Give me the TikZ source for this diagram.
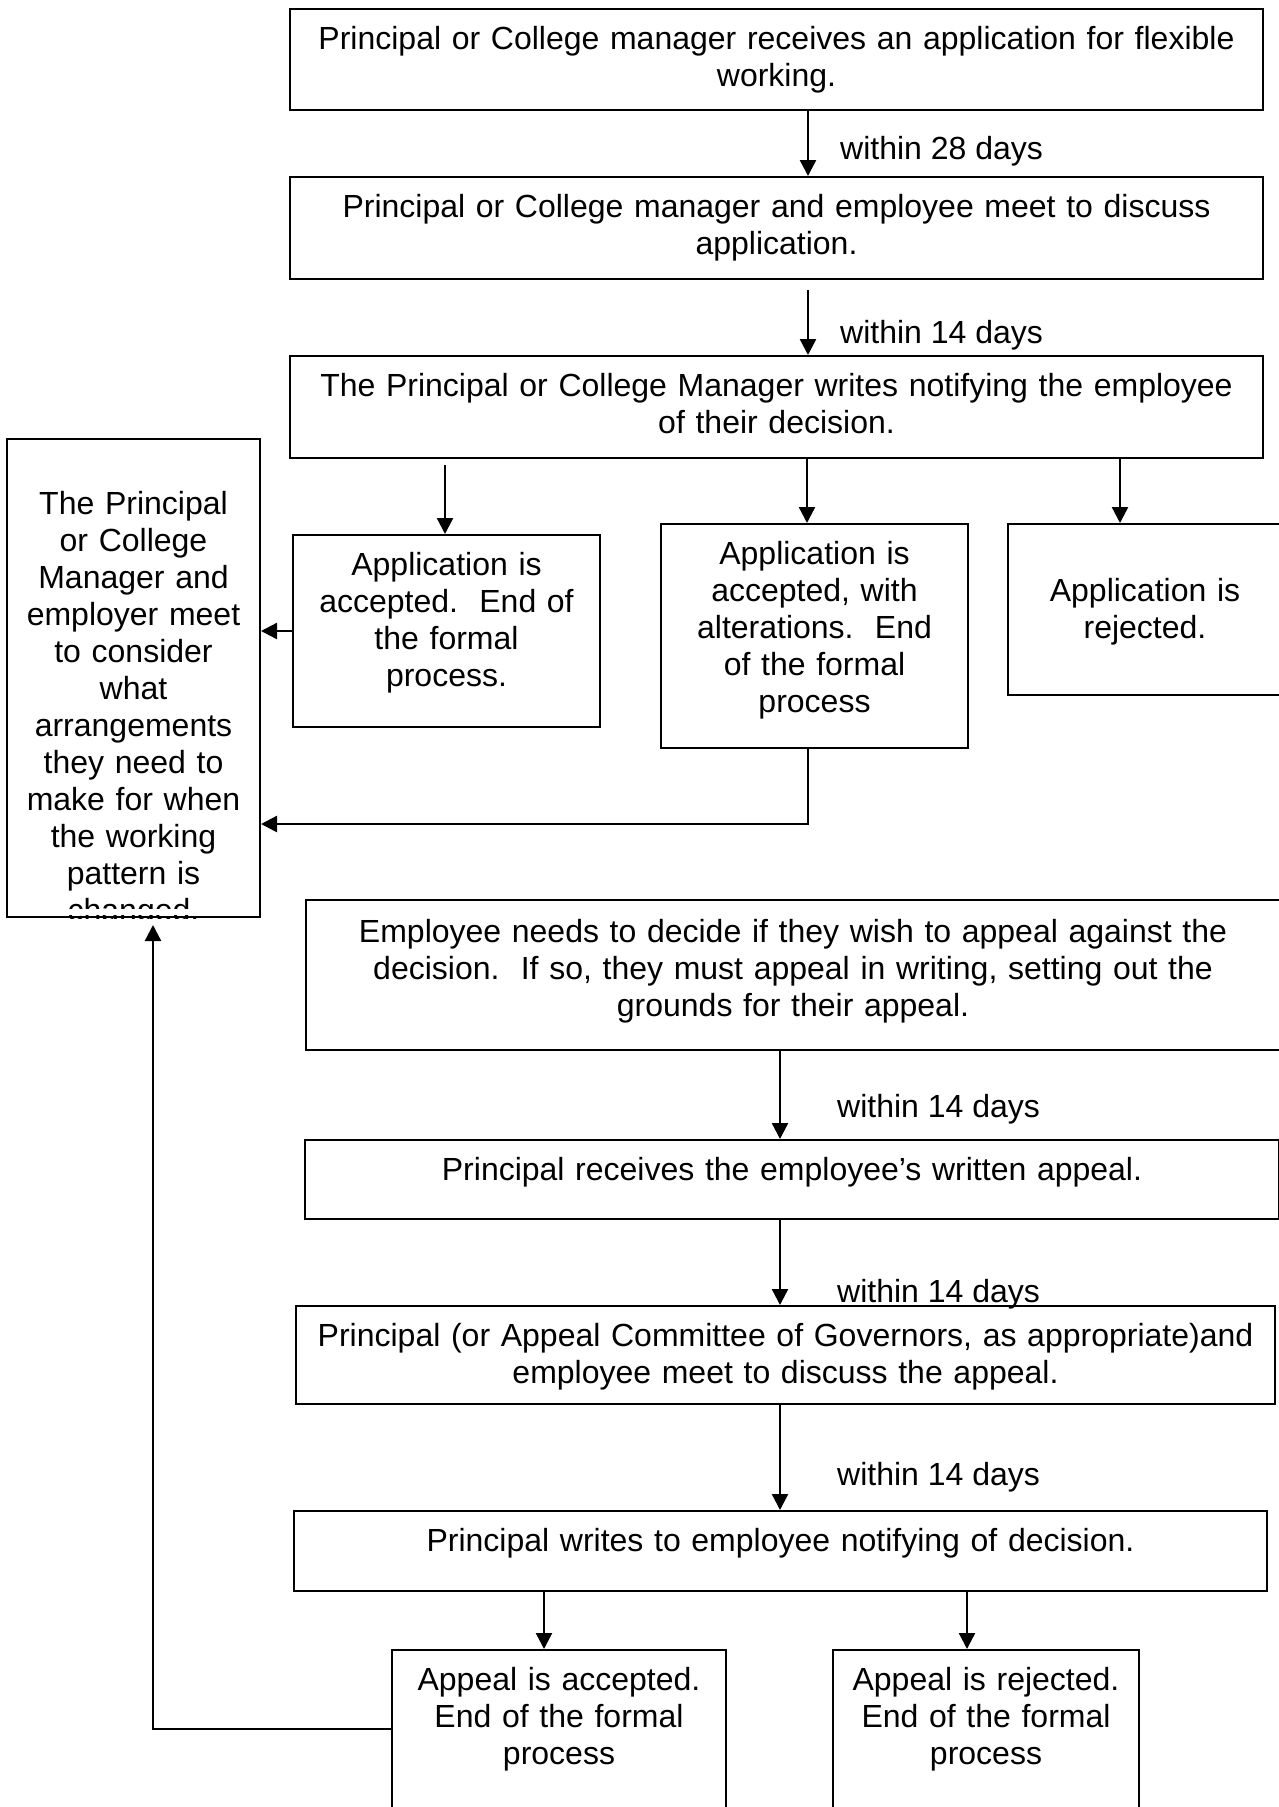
\documentclass[tikz,border=0pt]{standalone}
\usepackage{fontspec}
\setmainfont{Liberation Sans}
\usetikzlibrary{positioning, arrows.meta, calc}

\begin{document}
\begin{tikzpicture}[
        x=1pt, y=1pt, % one unit = one pixel of the page
        % --- STYLES ---
        % 1. The process boxes (text hangs from the top edge)
        stage/.style={
                draw,
                line width=2pt,
                anchor=north,
                align=center,
                inner sep=0pt,
                text height=40pt,
                font=\fontsize{32}{37}\selectfont
            },
        % 2. The arrows between the boxes
        flow/.style={
                -{Triangle[length=16pt, width=16pt]},
                line width=2.4pt
            },
        % 3. The time limits next to the arrows
        limit/.style={
                anchor=base west,
                inner sep=0pt,
                font=\fontsize{32}{37}\selectfont
            }
    ]

    \useasboundingbox (0,0) rectangle (1278,-1807);

    % 1. The application
    \node[stage, text width=973pt, text depth=61pt] (apply) at (776.5,-8) {Principal or College manager receives an application for flexible\\ working.};
    \node[stage, text width=973pt, text depth=62pt] (discuss) at (776.5,-176) {Principal or College manager and employee meet to discuss\\ application.};
    \node[stage, text width=973pt, text depth=62pt] (notify) at (776.5,-355) {The Principal or College Manager writes notifying the employee\\ of their decision.};

    % 2. The three decisions
    \node[stage, text width=307pt, text depth=152pt] (accepted) at (446.5,-534) {Application is\\ accepted.\ \ End of\\ the formal\\ process.};
    \node[stage, text width=307pt, text depth=184pt] (altered) at (814.5,-523) {Application is\\ accepted, with\\ alterations.\ \ End\\ of the formal\\ process};
    \node[stage, text width=274pt, text height=77pt, text depth=94pt] (rejected) at (1145,-523) {Application is\\ rejected.};

    % 3. The arrangements box (last line cut by the box)
    \begin{scope}
        \clip (0,-420) rectangle (300,-908) (0,-908) rectangle (9,-918)
              (258,-908) rectangle (300,-918) (0,-915) rectangle (300,-918);
        \node[stage, text width=253pt, text height=75pt, text depth=403pt] (consider) at (133.5,-438) {The Principal\\ or College\\ Manager and\\ employer meet\\ to consider\\ what\\ arrangements\\ they need to\\ make for when\\ the working\\ pattern is\\ changed.};
    \end{scope}

    % 4. The appeal
    \node[stage, text width=974pt, text height=42pt, text depth=108pt] (appealq) at (793,-899) {Employee needs to decide if they wish to appeal against the\\ decision.\ \ If so, they must appeal in writing, setting out the\\ grounds for their appeal.};
    \node[stage, text width=974pt, text depth=39pt] (received) at (792,-1139) {Principal receives the employee’s written appeal.};
    \node[stage, text width=979pt, text depth=58pt] (hearing) at (785.5,-1305) {Principal (or Appeal Committee of Governors, as appropriate)and\\ employee meet to discuss the appeal.};
    \node[stage, text width=973pt, text depth=40pt] (outcome) at (780.5,-1510) {Principal writes to employee notifying of decision.};
    \node[stage, text width=334pt, text depth=141pt] (upheld) at (559,-1649) {Appeal is accepted.\\ End of the formal\\ process};
    \node[stage, text width=306pt, text depth=141pt] (dismissed) at (986,-1649) {Appeal is rejected.\\ End of the formal\\ process};

    % 5. Time limits
    \node[limit] (days28) at (840,-159) {within 28 days};
    \node[limit] (days14a) at (840,-343) {within 14 days};
    \node[limit] (days14b) at (837,-1117) {within 14 days};
    \node[limit] (days14c) at (837,-1302) {within 14 days};
    \node[limit] (days14d) at (837,-1485) {within 14 days};

    % 6. Arrows of the first part
    \draw[flow] (apply.south -| 808,0) -- (discuss.north -| 808,0);
    \draw[flow, shorten <=10pt] (discuss.south -| 808,0) -- (notify.north -| 808,0);
    \draw[flow, shorten <=6pt] (notify.south -| 445,0) -- (accepted.north -| 445,0);
    \draw[flow] (notify.south -| 807,0) -- (altered.north -| 807,0);
    \draw[flow] (notify.south -| 1120,0) -- (rejected.north -| 1120,0);
    \draw[flow] (accepted.west) -- (accepted.west -| consider.east);
    \draw[flow] (altered.south -| 808,0) |- (consider.east |- 0,-824);

    % 7. Arrows of the appeal
    \draw[flow] (appealq.south -| 780,0) -- (received.north -| 780,0);
    \draw[flow] (received.south -| 780,0) -- (hearing.north -| 780,0);
    \draw[flow] (hearing.south -| 780,0) -- (outcome.north -| 780,0);
    \draw[flow] (outcome.south -| 544,0) -- (upheld.north -| 544,0);
    \draw[flow] (outcome.south -| 967,0) -- (dismissed.north -| 967,0);

    % 8. Back to the arrangements box
    \coordinate (back) at (153,-1729);
    \draw[flow, shorten >=7pt] (upheld.west |- back) -- (back) -- (back |- consider.south);

\end{tikzpicture}
\end{document}
